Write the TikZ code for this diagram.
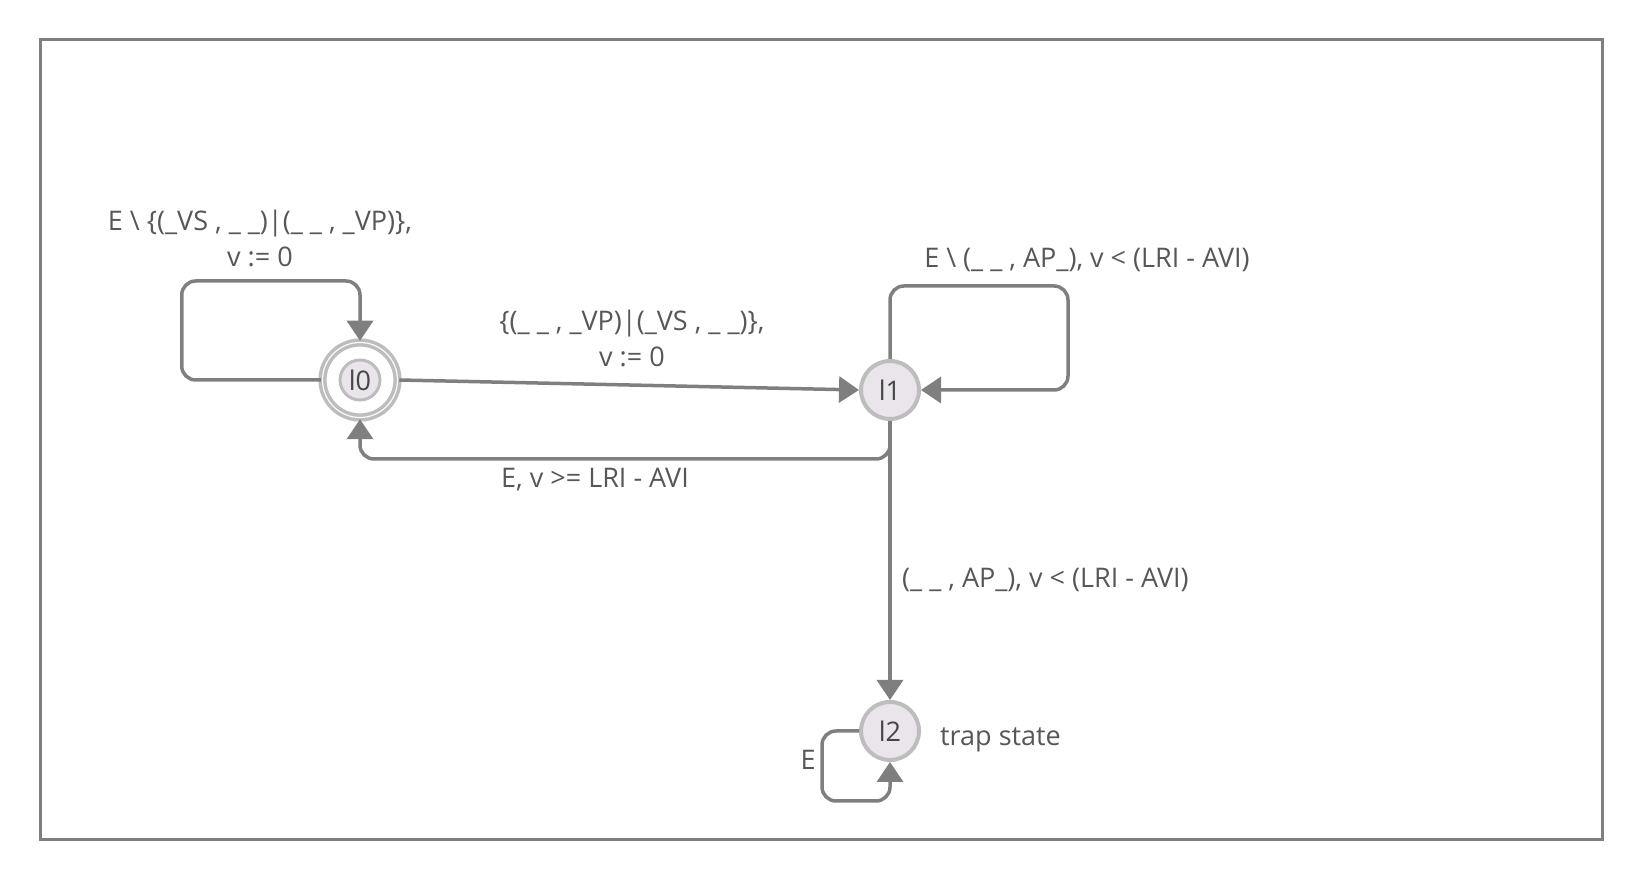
\documentclass[tikz,border=0pt]{standalone}
\usepackage{fontspec}
\setmainfont{Open Sans}
\usepackage{tikz}
\usetikzlibrary{arrows.meta}
\usetikzlibrary{positioning,calc}

\definecolor{edgeGray}{HTML}{7F7F7F}
\definecolor{ringGray}{HTML}{BDBDBD}
\definecolor{stateFill}{HTML}{E9E5EA}
\definecolor{textGray}{HTML}{575757}

\begin{document}
\begin{tikzpicture}[
  x=1pt, y=1pt,
  font=\fontsize{27}{36}\selectfont\color{textGray},
  edgelabel/.style={align=center, inner sep=0pt}
]
	\tikzstyle{state} = [circle, minimum size=58pt, inner sep=0pt, draw=ringGray, line width=4pt, fill=stateFill, text=textGray!80!black]
	\tikzstyle{innerState} = [circle, minimum size=40pt, inner sep=0pt, draw=ringGray, line width=3pt, fill=stateFill, text=textGray!80!black]
	\tikzstyle{ring} = [circle, minimum size=75pt, inner sep=0pt, draw=ringGray, line width=3.5pt, double=white!92!ringGray, double distance=1.2pt]
	\tikzstyle{edge} = [draw=edgeGray, line width=3.5pt, rounded corners=14pt, -{Triangle[width=26pt,length=20pt]}]

	\useasboundingbox (0,0) rectangle (1640,880);
	\draw[edgeGray, line width=3pt] (40,40) rectangle (1602,840);

	% states
	\node (l0) [innerState] at (360,500) {l0};
	\node (l0ring) [ring] at (l0) {};
	\node (l1) [state] at (890,490) {l1};
	\node (l2) [state, below of=l1, node distance=341pt] {l2};
	\node (trapLabel) [edgelabel, right of=l2, node distance=50pt, anchor=west, yshift=-9pt] {trap state};

	% transitions
	\draw[edge] (l0ring.west) -- ++(-139,0) -- ++(0,99) -| (l0ring.north);
	\node (l0loopLabel) [edgelabel] at (260,642) {E \textbackslash\ \{(\_VS , \_ \_)|(\_ \_ , \_VP)\},\\ v := 0};

	\draw[edge] (l0ring.east) -- (l1.west);
	\node (l0l1Label) [edgelabel] at (632,542) {\{(\_ \_ , \_VP)|(\_VS , \_ \_)\},\\ v := 0};

	\draw[edge] (l1.south) -- ++(0,-38) -| (l0ring.south);
	\node (l1l0Label) [edgelabel] at (595,400) {E, v >= LRI - AVI};

	\draw[edge] (l1.north) -- ++(0,73) -- ++(178,0) |- (l1.east);
	\node (l1loopLabel) [edgelabel] at (1087,620) {E \textbackslash\ (\_ \_ , AP\_), v < (LRI - AVI)};

	\draw[edge] (l1.south) -- (l2.north);
	\node (l1l2Label) [edgelabel, anchor=west] at (902,300) {(\_ \_ , AP\_), v < (LRI - AVI)};

	\draw[edge] (l2.west) -- ++(-37,0) -- ++(0,-70) -| (l2.south);
	\node (l2loopLabel) [edgelabel] at (808,120) {E};

\end{tikzpicture}
\end{document}
